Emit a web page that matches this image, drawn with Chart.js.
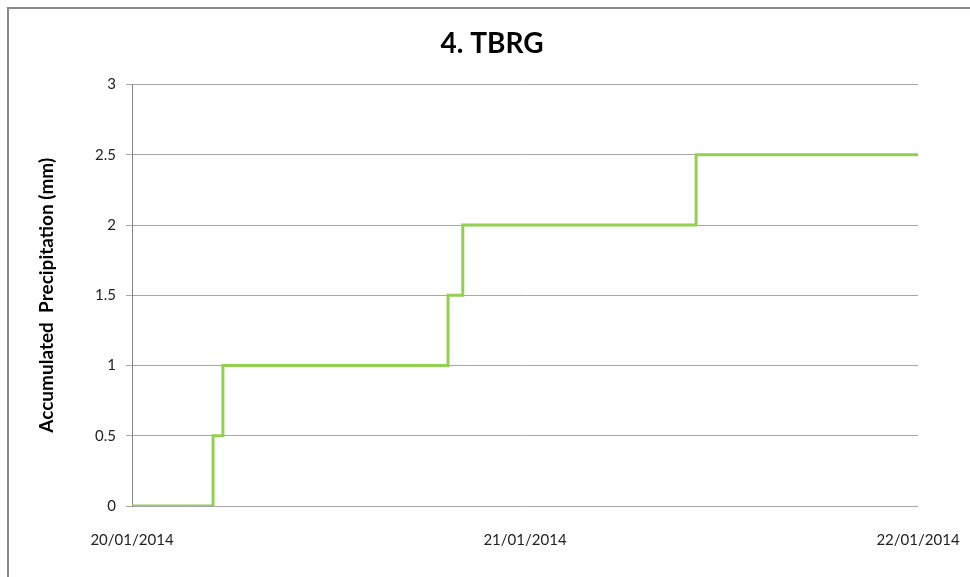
<!DOCTYPE html>
<html>
<head>
<meta charset="utf-8">
<script src="https://cdn.jsdelivr.net/npm/chart.js@4.4.0/dist/chart.umd.min.js"></script>
<style>
  html, body { margin: 0; padding: 0; background: #fff; }
  #wrap { width: 970px; height: 577px; position: relative; }
</style>
</head>
<body>
<div id="wrap"><canvas id="tbrgChart"></canvas></div>
<script>
// hours since 20/01/2014 00:00 at each tip, and accumulated rain after it
const hours = [0, 4.95, 5.55, 19.3, 20.2, 34.45, 48];
const precip = [0, 0.5, 1, 1.5, 2, 2.5, 2.5];
const dateLabels = ["20/01/2014", "21/01/2014", "22/01/2014"];

const points = hours.map(function (h, i) { return { x: h, y: precip[i] }; });

const frame = {
  id: "frame",
  beforeDraw(chart) {
    const ctx = chart.ctx;
    ctx.save();
    ctx.fillStyle = "#fff";
    ctx.fillRect(0, 0, chart.width, chart.height);
    ctx.fillStyle = "#8a8a8a";
    ctx.fillRect(7, 7, 2, chart.height - 7);
    ctx.fillRect(7, 7, chart.width - 7, 2);
    ctx.restore();
  }
};

const font = "Lato";

new Chart(document.getElementById("tbrgChart").getContext("2d"), {
  type: "line",
  data: {
    datasets: [{
      data: points,
      borderColor: "#92D050",
      borderWidth: 3,
      pointRadius: 0,
      stepped: true,
      fill: false
    }]
  },
  options: {
    responsive: true,
    maintainAspectRatio: false,
    animation: false,
    layout: { padding: { left: 14, right: 0, top: 0, bottom: 0 } },
    plugins: {
      legend: { display: false },
      tooltip: { enabled: false },
      title: {
        display: true,
        text: "4. TBRG",
        color: "#000",
        font: { family: font, size: 28, weight: "bold" },
        padding: { top: 27, bottom: 24 }
      }
    },
    scales: {
      x: {
        type: "linear",
        min: 0,
        max: 48,
        grid: { display: false },
        border: { display: false },
        afterFit(scale) {
          scale.height = 71;
          scale.paddingLeft = 0;
          scale.paddingRight = 52;
        },
        afterBuildTicks(scale) {
          scale.ticks = dateLabels.map(function (d, i) { return { value: i * 24 }; });
        },
        ticks: {
          autoSkip: false,
          maxRotation: 0,
          padding: 17,
          color: "#222",
          font: { family: font, size: 15 },
          callback: function (v) { return dateLabels[v / 24]; }
        }
      },
      y: {
        min: 0,
        max: 3,
        afterFit(scale) { scale.width = 118; },
        grid: { color: "#a6a6a6", tickLength: 6 },
        border: { color: "#868686" },
        ticks: {
          stepSize: 0.5,
          padding: 10,
          color: "#222",
          font: { family: font, size: 15 },
          callback: function (v) { return String(v); }
        },
        title: {
          display: true,
          text: "Accumulated  Precipitation (mm)",
          color: "#000",
          font: { family: font, size: 19, weight: "bold" },
          padding: { top: 21, bottom: 0 }
        }
      }
    }
  },
  plugins: [frame]
});
</script>
</body>
</html>
